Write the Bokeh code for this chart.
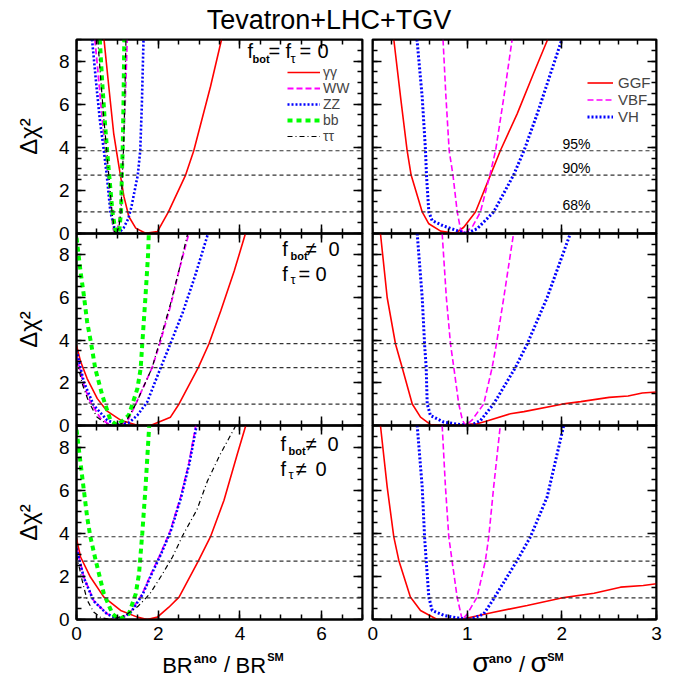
import math
from bokeh.plotting import figure
from bokeh.models import (Range1d, LinearAxis, SingleIntervalTicker, Span, Label,
                          Legend, LegendItem, Row, Column)
from bokeh.embed import file_html
from bokeh.resources import INLINE

FONT = "Liberation Sans"

# ---------------- data ----------------
title_text = "Tevatron+LHC+TGV"
cl_levels = [1.0, 2.71, 3.84]
cl_labels = ["68%", "90%", "95%"]

br_names = ["\u03b3\u03b3", "WW", "ZZ", "bb", "\u03c4\u03c4"]
xs_names = ["GGF", "VBF", "VH"]

# Panel 1: f_bot = f_tau = 0  (BR^ano / BR^SM)
br1_gg_x = [0.67, 0.79, 0.91, 1.00, 1.08, 1.16, 1.28, 1.45, 1.69, 1.98, 2.25, 2.67, 2.87, 3.28, 3.55]
br1_gg_y = [9.06, 6.82, 4.65, 3.57, 2.64, 1.72, 0.79, 0.25, 0.01, 0.09, 1.00, 2.71, 3.84, 6.82, 9.00]
br1_ww_x = [0.45, 0.55, 0.63, 0.71, 0.77, 0.85, 0.90, 0.93, 1.00, 1.08, 1.12, 1.14, 1.19, 1.24]
br1_ww_y = [9.0, 7.0, 5.3, 3.84, 2.71, 1.0, 0.2, 0.0, 0.2, 1.0, 2.71, 3.84, 6.0, 9.0]
br1_zz_x = [0.38, 0.48, 0.57, 0.67, 0.74, 0.83, 0.92, 1.02, 1.15, 1.27, 1.34, 1.50, 1.56, 1.60, 1.64]
br1_zz_y = [9.0, 7.0, 5.3, 3.84, 2.71, 1.0, 0.3, 0.0, 0.25, 0.7, 1.2, 2.71, 3.84, 6.0, 9.0]
br1_bb_x = [0.57, 0.63, 0.69, 0.75, 0.80, 0.88, 0.95, 1.00, 1.05, 1.09, 1.11, 1.13, 1.15, 1.17]
br1_bb_y = [9.0, 7.0, 5.3, 3.84, 2.71, 1.0, 0.15, 0.0, 0.2, 1.0, 2.71, 3.84, 6.0, 9.0]
br1_tt_x = [0.52, 0.60, 0.67, 0.74, 0.79, 0.87, 0.93, 0.97, 1.03, 1.09, 1.12, 1.15, 1.18, 1.21]
br1_tt_y = [9.0, 7.0, 5.3, 3.84, 2.71, 1.0, 0.1, 0.0, 0.2, 1.0, 2.71, 3.84, 6.0, 9.0]

# Panel 2: f_bot != 0, f_tau = 0
br2_gg_x = [0.0, 0.10, 0.26, 0.51, 0.75, 1.08, 1.49, 1.81, 2.30, 2.51, 2.98, 3.24, 3.53, 3.86, 4.13]
br2_gg_y = [3.75, 3.0, 2.2, 1.26, 0.67, 0.25, 0.01, 0.0, 0.39, 1.01, 2.71, 3.82, 5.37, 7.24, 8.96]
br2_ww_x = [0.0, 0.18, 0.34, 0.59, 0.83, 1.00, 1.24, 1.45, 1.85, 2.04, 2.30, 2.50, 2.75]
br2_ww_y = [3.28, 1.88, 1.1, 0.33, 0.0, 0.02, 0.17, 1.0, 2.71, 3.84, 5.6, 7.2, 9.0]
br2_zz_x = [0.0, 0.18, 0.42, 0.75, 1.08, 1.30, 1.49, 1.73, 2.06, 2.30, 2.60, 2.90, 3.22]
br2_zz_y = [3.52, 2.04, 0.95, 0.25, 0.0, 0.15, 0.48, 1.1, 2.71, 3.84, 5.3, 7.0, 9.0]
br2_bb_x = [0.0, 0.10, 0.18, 0.26, 0.36, 0.46, 0.63, 0.83, 1.00, 1.28, 1.49, 1.57, 1.61, 1.69, 1.75, 1.77]
br2_bb_y = [8.8, 7.2, 6.1, 4.86, 3.83, 2.66, 1.42, 0.25, 0.0, 0.48, 1.73, 2.66, 3.83, 6.09, 7.96, 9.0]
br2_tt_x = [0.0, 0.15, 0.30, 0.50, 0.75, 0.95, 1.20, 1.45, 1.85, 2.02, 2.30, 2.50, 2.72]
br2_tt_y = [3.05, 1.9, 1.1, 0.4, 0.05, 0.0, 0.15, 1.0, 2.71, 3.84, 5.7, 7.2, 9.0]

# Panel 3: f_bot != 0, f_tau != 0
br3_gg_x = [0.0, 0.10, 0.34, 0.67, 1.08, 1.49, 1.73, 1.98, 2.26, 2.51, 2.98, 3.28, 3.61, 3.94, 4.14]
br3_gg_y = [3.75, 2.9, 1.97, 1.04, 0.42, 0.11, 0.0, 0.11, 0.57, 1.04, 2.71, 3.84, 5.53, 7.7, 8.98]
br3_ww_x = [0.0, 0.18, 0.42, 0.75, 1.04, 1.32, 1.61, 1.81, 2.06, 2.30, 2.55, 2.75, 2.92]
br3_ww_y = [3.36, 1.97, 0.88, 0.26, 0.0, 0.34, 1.19, 2.05, 3.06, 4.14, 5.69, 7.24, 9.0]
br3_zz_x = [0.0, 0.18, 0.42, 0.75, 1.06, 1.33, 1.62, 1.82, 2.07, 2.31, 2.56, 2.76, 2.94]
br3_zz_y = [3.3, 1.93, 0.86, 0.25, 0.0, 0.33, 1.17, 2.03, 3.04, 4.12, 5.67, 7.22, 9.0]
br3_bb_x = [0.0, 0.10, 0.18, 0.26, 0.34, 0.47, 0.67, 0.88, 1.04, 1.28, 1.45, 1.53, 1.57, 1.61, 1.69, 1.78]
br3_bb_y = [8.8, 7.24, 6.0, 4.76, 3.83, 2.74, 1.19, 0.26, 0.0, 0.26, 1.19, 2.12, 3.06, 3.99, 6.15, 9.0]
br3_tt_x = [0.0, 0.14, 0.26, 0.42, 0.60, 0.85, 1.20, 1.50, 1.80, 2.10, 2.35, 2.60, 2.95, 3.20, 3.50, 3.90]
br3_tt_y = [3.0, 1.8, 0.9, 0.35, 0.08, 0.0, 0.2, 0.6, 1.2, 2.1, 2.9, 3.9, 5.1, 6.4, 7.6, 9.0]

# Panel 4: sigma^ano / sigma^SM, f_bot = f_tau = 0
xs1_ggf_x = [0.225, 0.30, 0.366, 0.408, 0.525, 0.595, 0.72, 0.876, 0.964, 1.088, 1.246, 1.35, 1.528, 1.70, 1.85]
xs1_ggf_y = [9.0, 6.2, 3.84, 2.71, 1.0, 0.45, 0.11, 0.0, 0.29, 1.0, 2.71, 3.84, 5.55, 7.41, 9.0]
xs1_vbf_x = [0.745, 0.775, 0.81, 0.85, 0.895, 0.93, 0.97, 1.00, 1.06, 1.14, 1.24, 1.30, 1.39, 1.475]
xs1_vbf_y = [9.0, 6.4, 3.84, 2.71, 1.0, 0.2, 0.0, 0.1, 0.35, 1.0, 2.71, 3.84, 6.4, 9.0]
xs1_vh_x = [0.47, 0.525, 0.56, 0.57, 0.595, 0.63, 0.75, 0.89, 0.99, 1.105, 1.28, 1.49, 1.60, 1.74, 1.88, 2.0]
xs1_vh_y = [9.0, 6.33, 3.84, 2.71, 1.0, 0.6, 0.35, 0.14, 0.0, 0.22, 1.0, 2.71, 3.84, 5.55, 7.41, 9.0]

# Panel 5: f_bot != 0, f_tau = 0
xs2_ggf_x = [0.084, 0.155, 0.243, 0.314, 0.42, 0.507, 0.61, 0.79, 1.105, 1.20, 1.457, 1.60, 2.00, 2.20, 2.50, 2.70, 2.85, 3.0]
xs2_ggf_y = [9.0, 6.0, 3.82, 2.71, 1.01, 0.39, 0.05, 0.0, 0.08, 0.2, 0.55, 0.65, 1.0, 1.12, 1.32, 1.38, 1.52, 1.57]
xs2_vbf_x = [0.736, 0.78, 0.824, 0.859, 0.911, 0.95, 0.982, 1.05, 1.175, 1.264, 1.309, 1.387, 1.49]
xs2_vbf_y = [9.0, 6.0, 3.82, 2.72, 1.01, 0.25, 0.0, 0.25, 1.01, 2.72, 3.82, 6.0, 9.0]
xs2_vh_x = [0.472, 0.525, 0.55, 0.567, 0.578, 0.612, 0.753, 0.93, 1.035, 1.14, 1.28, 1.51, 1.634, 1.845, 2.09]
xs2_vh_y = [9.0, 6.0, 3.82, 2.72, 1.01, 0.47, 0.16, 0.04, 0.0, 0.23, 1.01, 2.72, 3.82, 6.0, 9.0]

# Panel 6: f_bot != 0, f_tau != 0
xs3_ggf_x = [0.084, 0.155, 0.225, 0.278, 0.40, 0.507, 0.683, 0.93, 1.28, 1.634, 1.985, 2.34, 2.62, 2.86, 3.0]
xs3_ggf_y = [9.0, 6.15, 3.83, 2.74, 1.04, 0.42, 0.0, 0.0, 0.34, 0.65, 0.99, 1.22, 1.5, 1.58, 1.66]
xs3_vbf_x = [0.736, 0.77, 0.806, 0.84, 0.894, 0.947, 1.0, 1.105, 1.193, 1.228, 1.28, 1.35]
xs3_vbf_y = [9.0, 6.2, 3.83, 2.74, 1.04, 0.0, 0.25, 1.04, 2.74, 3.83, 6.15, 9.0]
xs3_vh_x = [0.472, 0.525, 0.55, 0.567, 0.595, 0.63, 0.753, 0.93, 1.035, 1.175, 1.28, 1.528, 1.668, 1.845, 2.02]
xs3_vh_y = [9.0, 6.15, 3.83, 2.74, 1.04, 0.42, 0.19, 0.05, 0.0, 0.26, 0.96, 2.74, 3.83, 5.69, 9.0]

br_panels = [
    [(br1_gg_x, br1_gg_y), (br1_ww_x, br1_ww_y), (br1_zz_x, br1_zz_y), (br1_bb_x, br1_bb_y), (br1_tt_x, br1_tt_y)],
    [(br2_gg_x, br2_gg_y), (br2_ww_x, br2_ww_y), (br2_zz_x, br2_zz_y), (br2_bb_x, br2_bb_y), (br2_tt_x, br2_tt_y)],
    [(br3_gg_x, br3_gg_y), (br3_ww_x, br3_ww_y), (br3_zz_x, br3_zz_y), (br3_bb_x, br3_bb_y), (br3_tt_x, br3_tt_y)],
]
xs_panels = [
    [(xs1_ggf_x, xs1_ggf_y), (xs1_vbf_x, xs1_vbf_y), (xs1_vh_x, xs1_vh_y)],
    [(xs2_ggf_x, xs2_ggf_y), (xs2_vbf_x, xs2_vbf_y), (xs2_vh_x, xs2_vh_y)],
    [(xs3_ggf_x, xs3_ggf_y), (xs3_vbf_x, xs3_vbf_y), (xs3_vh_x, xs3_vh_y)],
]

# ---------------- styles ----------------
br_styles = [
    dict(line_color="#ff0000", line_width=1.6, line_dash="solid"),
    dict(line_color="#ff00ff", line_width=1.8, line_dash="6 3"),
    dict(line_color="#0000ff", line_width=2.6, line_dash="2 2"),
    dict(line_color="#00ff00", line_width=4.0, line_dash="5 4"),
    dict(line_color="#000000", line_width=1.2, line_dash="5 3 1 3"),
]
xs_styles = [
    dict(line_color="#ff0000", line_width=1.6, line_dash="solid"),
    dict(line_color="#ff00ff", line_width=1.6, line_dash="6 3"),
    dict(line_color="#0000ff", line_width=3.0, line_dash="2 2"),
]

FRAME_H = [194, 192, 194]
TOP_B = [4, 10, 10]
BOT_B = [10, 10, 30]


def lab(p, x, y, text, size, bold=False, align="left", y_units="screen", y_offset=0):
    p.add_layout(Label(x=x, y=y, x_units="screen", y_units=y_units, y_offset=y_offset,
                       text=text, text_font=FONT, text_font_size=f"{size}px",
                       text_font_style="bold" if bold else "normal",
                       text_align=align, text_baseline="middle",
                       text_color="black"))


def make_panel(col, row):
    left = col == 0
    xmax = 7 if left else 3
    fh = FRAME_H[row]
    p = figure(frame_width=286 if left else 284, frame_height=fh,
               x_range=Range1d(0, xmax), y_range=Range1d(0, 9),
               toolbar_location=None, output_backend="svg",
               x_axis_location=None, y_axis_location=None,
               min_border_left=76 if left else 5, min_border_right=5 if left else 14,
               min_border_top=TOP_B[row], min_border_bottom=BOT_B[row])
    p.grid.visible = False
    p.outline_line_color = "black"
    p.outline_line_width = 2
    p.background_fill_alpha = 0
    p.border_fill_alpha = 0

    common = dict(axis_line_width=2, axis_line_color="black",
                  major_tick_in=9, major_tick_out=0, minor_tick_in=5, minor_tick_out=0,
                  major_tick_line_width=1.5, minor_tick_line_width=1.5,
                  major_label_text_font=FONT, major_label_text_font_size="19px",
                  major_label_text_color="black")

    def xt():
        return SingleIntervalTicker(interval=2 if left else 1, num_minor_ticks=4 if left else 5)

    def yt():
        return SingleIntervalTicker(interval=2, num_minor_ticks=4)

    bottom = LinearAxis(ticker=xt(), **common)
    if row == 2:
        bottom.major_label_standoff = 7
    else:
        bottom.fixed_location = 0
        bottom.major_label_text_color = None
    top = LinearAxis(ticker=xt(), **common)
    top.fixed_location = 9
    top.major_label_text_color = None
    lefta = LinearAxis(ticker=yt(), **common)
    if left:
        lefta.major_label_standoff = 7
        lefta.axis_label = "\u0394\u03c7\u00b2"
        lefta.axis_label_text_font = FONT
        lefta.axis_label_text_font_size = "24px"
        lefta.axis_label_text_font_style = "normal"
        lefta.axis_label_text_color = "black"
        lefta.axis_label_standoff = 14
    else:
        lefta.fixed_location = 0
        lefta.major_label_text_color = None
    righta = LinearAxis(ticker=yt(), **common)
    righta.fixed_location = xmax
    righta.major_label_text_color = None
    p.add_layout(bottom, "below")
    p.add_layout(top, "above")
    p.add_layout(lefta, "left")
    p.add_layout(righta, "right")

    for lv in cl_levels:
        p.add_layout(Span(location=lv, dimension="width", line_color="#333333",
                          line_width=1.2, line_dash="4 3"))

    curves = br_panels[row] if left else xs_panels[row]
    styles = br_styles if left else xs_styles
    rends = []
    for (cx, cy), st in zip(curves, styles):
        rends.append(p.line(cx, cy, **st))

    if left and row == 0:
        y0, ys = fh - 11, fh - 19
        lab(p, 171, y0, "f", 20)
        lab(p, 176, ys, "bot", 11, bold=True)
        lab(p, 192, y0, "=", 20)
        lab(p, 209, y0, "f", 20)
        lab(p, 214, ys, "\u03c4", 13)
        lab(p, 223, y0, "=", 20)
        lab(p, 241, y0, "0", 20)
        leg = Legend(items=[LegendItem(label=n, renderers=[r]) for n, r in zip(br_names, rends)],
                     location=(211, 89), orientation="vertical",
                     glyph_width=33, glyph_height=16, label_height=16, label_standoff=3,
                     spacing=0, padding=0, margin=0, border_line_color=None,
                     background_fill_alpha=0, label_text_font=FONT,
                     label_text_font_size="14px")
        p.add_layout(leg)
    if left and row == 1:
        y1, s1 = fh - 15, fh - 22
        lab(p, 205.7, y1, "f", 20)
        lab(p, 214, s1, "bot", 11, bold=True)
        lab(p, 229, y1, "\u2260", 20)
        lab(p, 252, y1, "0", 20)
        y2, s2 = fh - 40, fh - 46
        lab(p, 205.7, y2, "f", 20)
        lab(p, 214, s2, "\u03c4", 13)
        lab(p, 222, y2, "=", 20)
        lab(p, 239, y2, "0", 20)
    if left and row == 2:
        y1, s1 = fh - 18, fh - 25
        lab(p, 204, y1, "f", 20)
        lab(p, 212, s1, "bot", 11, bold=True)
        lab(p, 229, y1, "\u2260", 20)
        lab(p, 251, y1, "0", 20)
        y2, s2 = fh - 43, fh - 49
        lab(p, 204, y2, "f", 20)
        lab(p, 212, s2, "\u03c4", 13)
        lab(p, 219, y2, "\u2260", 20)
        lab(p, 239, y2, "0", 20)
    if (not left) and row == 0:
        for lv, t in zip(cl_levels, cl_labels):
            lab(p, 190, lv, t, 14, y_units="data", y_offset=7)
        leg = Legend(items=[LegendItem(label=n, renderers=[r]) for n, r in zip(xs_names, rends)],
                     location=(215, 108), orientation="vertical",
                     glyph_width=26, glyph_height=17, label_height=17, label_standoff=5,
                     spacing=0, padding=0, margin=0, border_line_color=None,
                     background_fill_alpha=0, label_text_font=FONT,
                     label_text_font_size="15px")
        p.add_layout(leg)
    return p


def blank_fig(w, h, **kw):
    f = figure(width=w, height=h, toolbar_location=None, output_backend="svg",
               x_axis_location=None, y_axis_location=None, min_border=0,
               x_range=Range1d(0, w), y_range=Range1d(0, h), **kw)
    f.grid.visible = False
    f.outline_line_color = None
    f.background_fill_alpha = 0
    f.border_fill_alpha = 0
    return f


TOTAL_W = 670
title_fig = blank_fig(TOTAL_W, 35)
lab(title_fig, 328.5, 16, title_text, 27, align="center")

xlab_fig = blank_fig(TOTAL_W, 38, margin=(-8, 0, 0, 0))
# BR^ano / BR^SM under the left column
lab(xlab_fig, 161.7, 14, "BR", 22)
lab(xlab_fig, 193.3, 21.5, "ano", 13, bold=True)
lab(xlab_fig, 226.5, 15, "/", 22, align="center")
lab(xlab_fig, 235, 14, "BR", 22)
lab(xlab_fig, 266.7, 22.5, "SM", 11, bold=True)
# sigma^ano / sigma^SM under the right column
lab(xlab_fig, 471.7, 17, "\u03c3", 28)
lab(xlab_fig, 488.3, 21.5, "ano", 13, bold=True)
lab(xlab_fig, 521.5, 15, "/", 22, align="center")
lab(xlab_fig, 530, 17, "\u03c3", 28)
lab(xlab_fig, 546.7, 22.5, "SM", 11, bold=True)

rows = []
for r in range(3):
    kw = {} if r == 0 else dict(margin=(-20, 0, 0, 0))
    rows.append(Row(children=[make_panel(0, r), make_panel(1, r)], spacing=0, **kw))

layout = Column(children=[title_fig] + rows + [xlab_fig], spacing=0)

open("out.html", "w").write(file_html(layout, INLINE))
